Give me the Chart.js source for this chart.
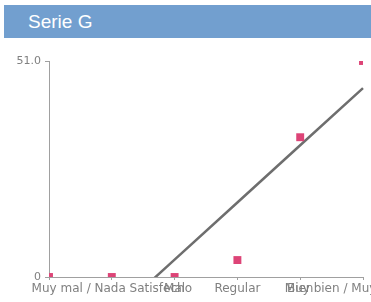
<!DOCTYPE html>
<html>
<head>
<meta charset="utf-8">
<script src="https://cdn.jsdelivr.net/npm/chart.js@4"></script>
<style>
  html, body { margin: 0; padding: 0; background: #fff; }
  #wrap { position: relative; width: 371px; height: 302px; overflow: hidden; }
  #band {
    position: absolute; left: 4px; top: 5px; width: 367px; height: 33px;
    background: #729fcf; color: #fff;
    font: 19px "Liberation Sans", Arial, sans-serif;
    line-height: 33px; padding-left: 24px; box-sizing: border-box;
  }
  canvas { position: absolute; left: 0; top: 0; }
</style>
</head>
<body>
<div id="wrap">
  <div id="band">Serie G</div>
  <canvas id="chart" width="371" height="302"></canvas>
</div>
<script>
const categories = ['', 'Muy mal / Nada Satisfecho', 'Mal', 'Regular', 'Bien', 'Muy bien / Muy satisfecho']
const values = [0, 0, 0, 4, 33, 51]
const yTicks = [0, 51]

// Linear trend line fitted over the labelled categories (index 1..5)
const fitX = [], fitY = []
for (let i = 1; i < values.length; i++) { fitX.push(i); fitY.push(values[i]) }
const mx = fitX.reduce((a, b) => a + b, 0) / fitX.length
const my = fitY.reduce((a, b) => a + b, 0) / fitY.length
let sxy = 0, sxx = 0
fitX.forEach((x, k) => { sxy += (x - mx) * (fitY[k] - my); sxx += (x - mx) * (x - mx) })
const slope = sxy / sxx
const intercept = my - slope * mx
const trend = categories.map((c, i) => i >= 1 ? intercept + slope * i : null)

const axisColor = '#a0a0a0'

new Chart(document.getElementById('chart'), {
  type: 'line',
  data: {
    labels: categories,
    datasets: [
      {
        label: 'Tendencia',
        data: trend,
        borderColor: '#6e6e6e',
        borderWidth: 2.5,
        pointRadius: 0,
        fill: false,
        order: 2
      },
      {
        label: 'Serie G',
        data: values,
        showLine: false,
        clip: 0,
        pointStyle: 'rect',
        pointRadius: 5.6,
        pointBackgroundColor: '#dd4477',
        pointBorderWidth: 0,
        order: 1
      }
    ]
  },
  options: {
    responsive: false,
    animation: false,
    layout: { padding: { top: 61, right: 8, bottom: 0, left: 0 } },
    plugins: { legend: { display: false }, tooltip: { enabled: false } },
    scales: {
      x: {
        offset: false,
        afterFit: function(scale) {
          scale.height = 25
          scale.paddingLeft = 0
          scale.paddingRight = 0
        },
        grid: { drawOnChartArea: false, color: axisColor, tickLength: 3 },
        border: { color: axisColor },
        ticks: {
          autoSkip: false, maxRotation: 0, minRotation: 0, padding: 2,
          color: '#808080',
          font: { family: 'DejaVu Sans', size: 12 }
        }
      },
      y: {
        min: 0,
        max: 51,
        afterFit: function(scale) { scale.width = 49 },
        afterBuildTicks: function(scale) { scale.ticks = yTicks.map(v => ({ value: v })) },
        grid: { drawOnChartArea: false, color: axisColor, tickLength: 4 },
        border: { color: axisColor },
        ticks: {
          padding: 4,
          color: '#808080',
          font: { family: 'DejaVu Sans', size: 11 },
          callback: function(value) { return value === 0 ? '0' : value.toFixed(1) }
        }
      }
    }
  }
})
</script>
</body>
</html>
